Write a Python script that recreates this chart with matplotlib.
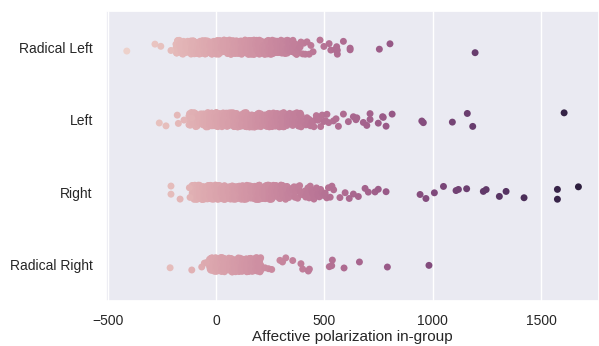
import numpy as np
import pandas as pd
import matplotlib
matplotlib.use("Agg")
import matplotlib.pyplot as plt
import seaborn as sns

groups = ["Radical Left", "Left", "Right", "Radical Right"]

# dense core of each strip: values read along the band, each appearing several times
dense_repeat = 3

radical_left_dense = [
    -185, -182, -178, -175, -171, -169, -166, -162, -159, -157, -153, -150, -146, -144, -141, -137, -134, -131, -128, -125,
    -121, -119, -115, -112, -109, -105, -102, -100, -96, -93, -90, -86, -84, -80, -77, -74, -70, -68, -65, -61,
    -58, -55, -52, -49, -46, -42, -40, -36, -33, -30, -27, -24, -20, -18, -15, -11, -8, -5, -2, 0,
    0, 3, 6, 9, 12, 15, 19, 21, 25, 28, 30, 34, 37, 40, 43, 46, 50, 50, 53, 56,
    59, 62, 66, 69, 71, 75, 78, 81, 84, 87, 90, 94, 97, 100, 100, 103, 106, 109, 113, 116,
    118, 122, 125, 128, 131, 134, 138, 140, 143, 147, 150, 150, 153, 156, 160, 163, 165, 169, 172, 175,
    178, 181, 184, 187, 190, 194, 197, 200, 200, 203, 206, 210, 212, 216, 219, 222, 225, 228, 231, 234,
    238, 241, 244, 247, 250, 250, 253, 257, 260, 263, 266, 269, 272, 276, 279, 282, 285, 288, 291, 295,
    298, 300, 300, 304, 307, 311, 314, 318, 321, 325, 329, 333, 337, 341, 345, 350, 355, 360, 366, 372,
]
radical_left_sparse = [
    -412, -282, -255, -208,
    375, 380, 388, 392, 400, 405, 412, 420, 430, 438, 448,
    480, 498, 522, 530, 550, 557, 560, 560, 588, 619, 619, 754, 803, 1196,
]

left_dense = [
    -125, -122, -119, -116, -114, -111, -108, -105, -102, -99, -97, -94, -91, -88, -85, -83, -80, -77, -74, -71,
    -69, -66, -63, -60, -57, -55, -52, -49, -46, -43, -41, -38, -35, -32, -29, -27, -24, -21, -18, -15,
    -13, -10, -7, -4, -1, 0, 2, 5, 8, 11, 13, 16, 19, 22, 25, 27, 30, 33, 36, 39,
    41, 44, 47, 50, 50, 53, 55, 58, 61, 64, 67, 69, 72, 75, 78, 81, 83, 86, 89, 92,
    95, 97, 100, 100, 103, 106, 109, 111, 114, 117, 120, 123, 125, 128, 131, 134, 137, 139, 142, 145,
    148, 150, 150, 153, 156, 159, 162, 165, 167, 170, 173, 176, 179, 181, 184, 187, 190, 193, 195, 198,
    200, 200, 204, 207, 210, 213, 216, 219, 222, 225, 228, 231, 234, 237, 240, 243, 246, 249, 250, 253,
    256, 259, 262, 265, 268, 271, 274, 277, 280, 283, 286, 289, 292, 295, 298, 300, 303, 306, 309, 312,
    315, 318, 321, 324, 327, 330, 334, 337, 340, 344, 347, 351, 354, 358, 361, 365, 369, 373, 377, 381,
    385, 389, 393,
]
left_sparse = [
    -262, -231, -179, -174, -148, -112,
    397, 401, 404, 409, 415, 420, 424, 430, 436, 441, 447, 452, 458, 463, 470, 476, 483, 490, 497, 505, 512,
    520, 542, 554, 565, 588, 611, 634, 646, 650, 680, 696, 711, 711, 749, 769, 772, 785, 813,
    950, 957, 1091, 1160, 1185, 1607,
]

right_dense = [
    -110, -107, -104, -101, -98, -96, -93, -90, -87, -84, -82, -79, -76, -73, -70, -68, -65, -62, -59, -56,
    -54, -51, -48, -45, -42, -40, -37, -34, -31, -28, -26, -23, -20, -17, -14, -12, -9, -6, -3, 0,
    0, 3, 5, 8, 11, 14, 17, 19, 22, 25, 28, 31, 33, 36, 39, 42, 45, 47, 50, 50,
    53, 56, 59, 61, 64, 67, 70, 73, 75, 78, 81, 84, 87, 89, 92, 95, 98, 100, 100, 103,
    106, 109, 112, 114, 117, 120, 123, 126, 128, 131, 134, 137, 140, 142, 145, 148, 150, 150, 153, 156,
    159, 162, 164, 167, 170, 173, 176, 178, 181, 184, 187, 190, 192, 195, 198, 200, 200, 203, 206, 209,
    212, 215, 218, 221, 224, 227, 230, 233, 236, 239, 242, 245, 248, 250, 253, 256, 259, 262, 265, 268,
    271, 274, 277, 280, 283, 286, 289, 292, 295, 298, 300, 303, 306, 309, 312, 315, 318, 321, 325, 328,
]
right_sparse = [
    -208, -208, -166, -123, -120,
    332, 336, 340, 344, 348, 352, 356, 360, 364, 368, 372, 377, 381, 386, 390, 395, 400, 404, 409, 414,
    419, 424, 430, 435, 441, 447, 452, 458, 464, 470, 477, 483, 490, 497, 504, 511, 519, 527, 535, 543,
    572, 596, 615, 634, 657, 688, 703, 734, 749, 785,
    942, 969, 1008, 1050, 1108, 1119, 1157, 1234, 1247, 1308, 1339, 1422, 1576, 1576, 1673,
]

radical_right_dense = [
    -30, -27, -24, -21, -19, -16, -13, -10, -7, -5, -2, 0, 2, 5, 8, 11, 14, 16, 19, 22,
    25, 28, 30, 33, 36, 39, 42, 45, 47, 50, 50, 53, 56, 59, 62, 64, 67, 70, 73, 76,
    78, 81, 84, 87, 90, 92, 95, 98, 100, 100, 103, 106, 109, 112, 114, 117, 120, 123, 126, 128,
    131, 134, 137, 140, 142, 145, 148, 150, 150, 153, 156, 159, 162, 164, 167, 170, 173, 176, 178, 181,
    184, 187, 190, 192, 195, 198, 200, 203, 206,
]
radical_right_sparse = [
    -212, -112, -66, -54, -43,
    226, 242, 257, 295, 307, 322, 354, 392, 400, 426, 431, 523, 534, 537, 591, 662, 791, 983,
]

dense = [radical_left_dense, left_dense, right_dense, radical_right_dense]
sparse = [radical_left_sparse, left_sparse, right_sparse, radical_right_sparse]

frames = []
for g, d, s in zip(groups, dense, sparse):
    vals = np.concatenate([np.repeat(d, dense_repeat), s])
    frames.append(pd.DataFrame({"group": g, "value": vals}))
df = pd.concat(frames, ignore_index=True)

sns.set_theme(style="darkgrid")
plt.rcParams["font.family"] = ["Liberation Sans", "DejaVu Sans"]

np.random.seed(3)
fig = plt.figure(figsize=(5.99, 3.46), dpi=100)
ax = fig.add_axes([106 / 599, 45 / 346, 493 / 599, 290 / 346])
sns.stripplot(data=df, x="value", y="group", hue="value", order=groups,
              legend=False, size=5, ax=ax)
ax.set_xlim(-508, 1768)
ax.set_xlabel("Affective polarization in-group", fontsize=11, labelpad=1)
ax.set_ylabel("")
ax.tick_params(axis="both", labelsize=10)

fig.savefig("out.png", dpi=100)
